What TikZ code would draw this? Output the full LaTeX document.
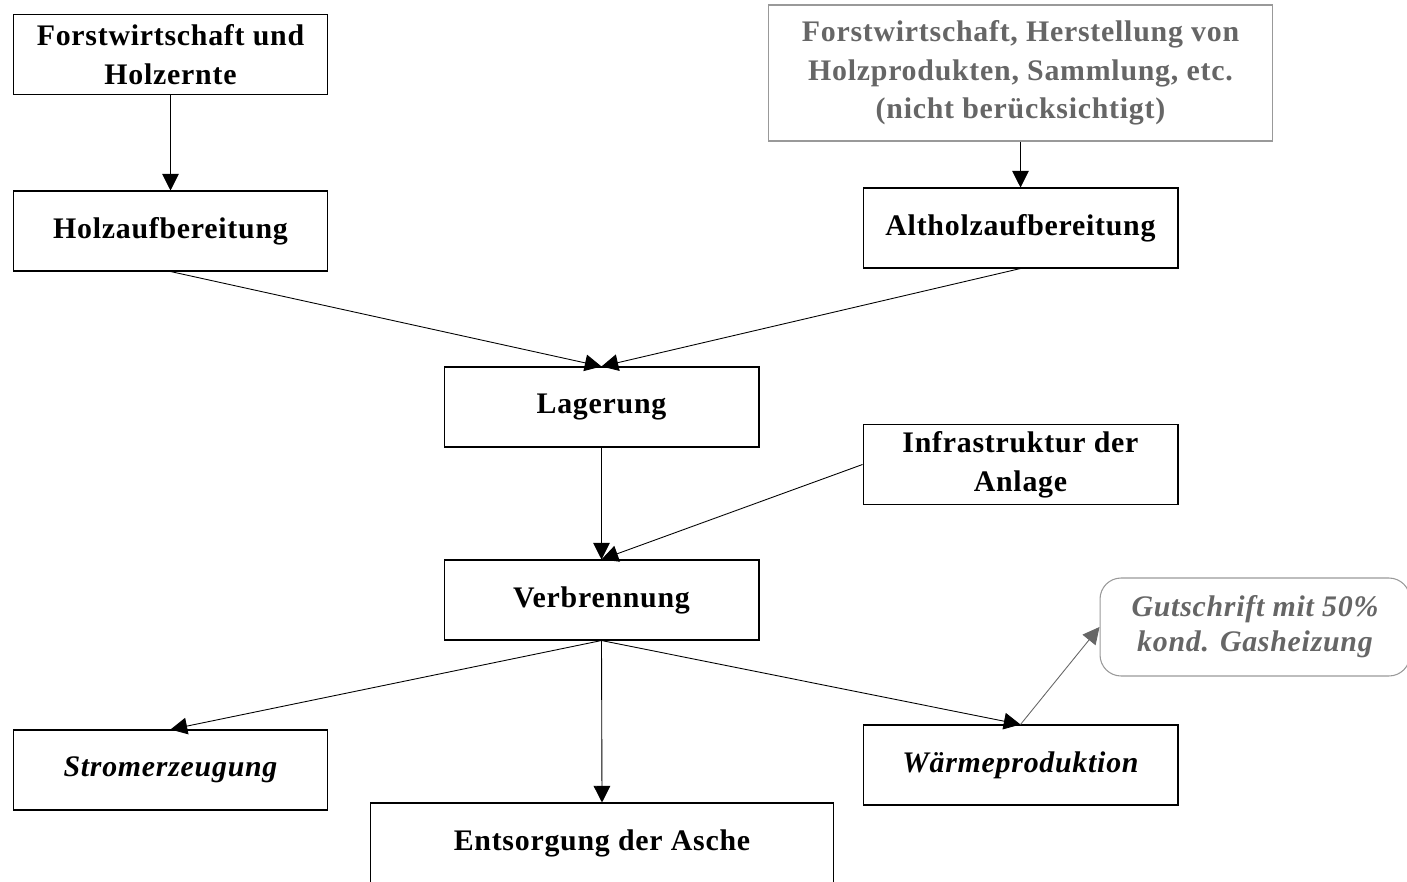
\documentclass[tikz,border=0pt]{standalone}
\usepackage{fontspec}
\setmainfont{Liberation Serif}[LetterSpace=2.5]
\usepackage{xcolor}
\usetikzlibrary{arrows.meta,positioning}
\definecolor{greytxt}{HTML}{666666}
\definecolor{greyline}{HTML}{999999}

\begin{document}
\begin{tikzpicture}[
  x=0.02cm, y=-0.02cm,
  font=\fontsize{17}{22}\selectfont\bfseries,
  box/.style={draw, align=center, line width=0.6pt, minimum width=6.3cm, minimum height=1.6cm, inner sep=2pt},
  itbox/.style={box, font=\fontsize{17}{22}\selectfont\bfseries\itshape},
  grey/.style={draw=greyline, text=greytxt, align=center, line width=0.6pt, minimum width=10.1cm, minimum height=2.72cm},
  note/.style={draw=greyline, rounded corners=12pt, text=greytxt, align=center, line width=0.6pt,
               minimum width=6.2cm, minimum height=1.96cm, font=\fontsize{17}{20}\selectfont\bfseries\itshape},
  ar/.style={-{Triangle[length=9.5pt,width=9.5pt]}, line width=0.5pt},
  grar/.style={ar, draw=greytxt, -{Triangle[length=9.5pt,width=9.5pt,fill=greytxt]}}
]
  \clip (0,0) rectangle (1407,882);

  \node[box] (forst) at (170.5,54.5) {Forstwirtschaft und\\ Holzernte};
  \node[box] (holz) at (170.5,231) {Holzaufbereitung};
  \node[grey] (other) at (1020.5,73) {Forstwirtschaft, Herstellung von\\ Holzprodukten, Sammlung, etc.\\ (nicht berücksichtigt)};
  \node[box] (altholz) at (1020.5,228) {Altholzaufbereitung};

  \node[box] (lager) at (601.5,407) {Lagerung};
  \node[box] (infra) at (1020.5,464.5) {Infrastruktur der\\ Anlage};
  \node[box] (verbr) at (601.5,600) {Verbrennung};

  \node[itbox] (strom) at (170.5,770) {Stromerzeugung};
  \node[box, minimum width=9.28cm] (asche) at (602,843) {Entsorgung der Asche};
  \node[itbox] (waerme) at (1020.5,765) {Wärmeproduktion};
  \node[note] (gut) at (1255,627) {Gutschrift mit 50\%\\ kond. Gasheizung};

  \draw[ar] (forst) -- (holz);
  \draw[ar] (other) -- (altholz);
  \draw[ar] (holz.south) -- (lager.north);
  \draw[ar] (altholz.south) -- (lager.north);
  \draw[ar] (lager) -- (verbr);
  \draw[ar] (infra.west) -- (verbr.north);
  \draw[ar] (verbr.south) -- (strom.north);
  \draw[ar] (verbr.south) -- (asche.north);
  \draw[ar] (verbr.south) -- (waerme.north);
  \draw[grar] (waerme.north) -- (gut.west);
\end{tikzpicture}
\end{document}
